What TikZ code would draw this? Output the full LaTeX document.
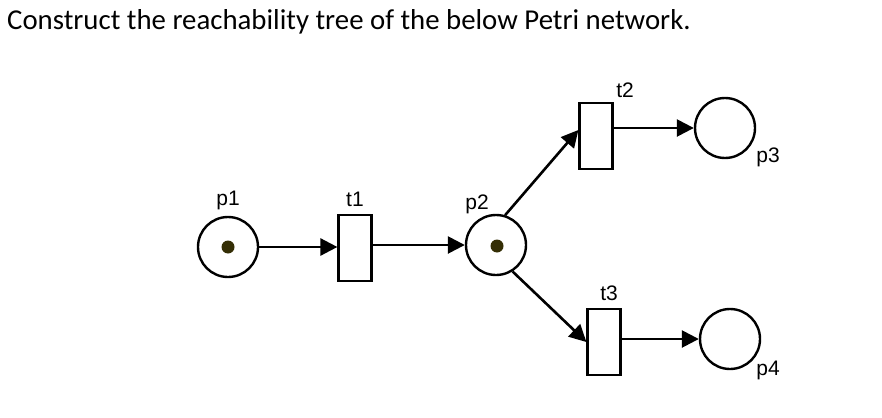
\documentclass[tikz,border=0pt]{standalone}
\usepackage{fontspec}
\setmainfont{Liberation Sans}
\newfontfamily\titlefont{Carlito}
\usetikzlibrary{arrows.meta}
\definecolor{tokencol}{RGB}{52,46,5}
\begin{document}
\begin{tikzpicture}[x=1pt,y=1pt,
  place/.style={circle,draw,line width=2.4pt,minimum size=60pt,inner sep=0pt},
  trans/.style={rectangle,draw,line width=2.2pt,minimum width=33pt,minimum height=66pt,inner sep=0pt},
  tok/.style={circle,fill=tokencol,minimum size=13pt,inner sep=0pt},
  lbl/.style={font=\fontsize{21}{21}\selectfont,inner sep=0pt},
  arc/.style={line width=2.6pt,-{Triangle[length=17pt,width=17pt]}}]
\useasboundingbox (0,0) rectangle (882,-417);
\node[anchor=base west,inner sep=0pt,font=\titlefont\fontsize{28.8}{29}\selectfont] (title) at (7,-30) {Construct the reachability tree of the below Petri network.};
\node[place] (p1) at (228,-247) {};
\node[tok] (k1) at (p1) {};
\node[place] (p2) at (496,-245) {};
\node[tok] (k2) at (497,-246) {};
\node[place] (p3) at (725,-128) {};
\node[place] (p4) at (730,-339) {};
\node[trans] (t1) at (355,-248) {};
\node[trans] (t2) at (596,-136) {};
\node[trans] (t3) at (604,-342) {};
\node[lbl] (l1) at (228,-200) {p1};
\node[lbl] (l2) at (355,-199) {t1};
\node[lbl] (l3) at (477,-204) {p2};
\node[lbl] (l4) at (625,-90) {t2};
\node[lbl] (l5) at (768,-157) {p3};
\node[lbl] (l6) at (609,-293) {t3};
\node[lbl] (l7) at (768,-370) {p4};
\draw[arc] (p1.east) -- (t1.west |- p1.east);
\draw[arc] (t1.east |- p2.west) -- (p2.west);
\draw[arc] (p2.73) -- ([yshift=6pt]t2.west);
\draw[arc] (t2.east |- p3.west) -- (p3.west);
\draw[arc] (p2.-58) -- (t3.west);
\draw[arc] (t3.east |- p4.west) -- (p4.west);
\end{tikzpicture}
\end{document}
